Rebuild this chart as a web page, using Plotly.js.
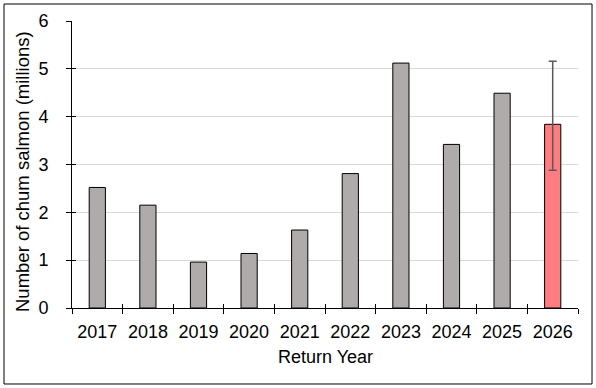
<!DOCTYPE html>
<html>
<head>
<meta charset="utf-8">
<script src="https://cdn.plot.ly/plotly-3.0.1.min.js"></script>
<style>
  html, body { margin: 0; padding: 0; background: #fff; }
  #chart { width: 596px; height: 388px; }
</style>
</head>
<body>
<div id="chart"></div>
<script>
// Data (millions of chum salmon)
var observedYears = ['2017', '2018', '2019', '2020', '2021', '2022', '2023', '2024', '2025'];
var observedValues = [2.52, 2.15, 0.96, 1.14, 1.63, 2.81, 5.12, 3.42, 4.49];
var forecastYears = ['2026'];
var forecastValues = [3.84];
var forecastLow = [2.88];
var forecastHigh = [5.16];
var allYears = observedYears.concat(forecastYears);
var yTickValues = [0, 1, 2, 3, 4, 5, 6];

var FONT = 'Liberation Sans, Arial, sans-serif';

var traces = [
  {
    type: 'bar',
    x: observedYears,
    y: observedValues,
    width: 0.32,
    marker: { color: '#AFABAB', line: { color: '#000000', width: 1 } },
    hoverinfo: 'x+y',
    showlegend: false
  },
  {
    type: 'bar',
    x: forecastYears,
    y: forecastValues,
    width: 0.32,
    marker: { color: '#FF7C80', line: { color: '#000000', width: 1 } },
    error_y: {
      type: 'data',
      symmetric: false,
      array: forecastHigh.map(function (h, i) { return h - forecastValues[i]; }),
      arrayminus: forecastLow.map(function (l, i) { return forecastValues[i] - l; }),
      color: '#595959',
      thickness: 1.5,
      width: 4
    },
    hoverinfo: 'x+y',
    showlegend: false
  }
];

var n = allYears.length;
var boundaryVals = [];
for (var i = 0; i <= n; i++) boundaryVals.push(i - 0.5);

var layout = {
  width: 596,
  height: 388,
  margin: { l: 72, r: 18, t: 21, b: 80 },
  paper_bgcolor: '#ffffff',
  plot_bgcolor: '#ffffff',
  barmode: 'overlay',
  font: { family: FONT, color: '#000000', size: 18 },
  xaxis: {
    type: 'category',
    categoryorder: 'array',
    categoryarray: allYears,
    range: [-0.5, n - 0.5],
    showline: true,
    linecolor: '#000000',
    linewidth: 1,
    ticks: 'outside',
    tickson: 'boundaries',
    ticklen: 5,
    tickcolor: '#000000',
    tickfont: { family: FONT, size: 18, color: '#000000' },
    ticklabelstandoff: 7,
    showgrid: false,
    zeroline: false,
    fixedrange: true
  },
  xaxis2: {
    overlaying: 'x',
    anchor: 'y',
    range: [-0.5, n - 0.5],
    tickmode: 'array',
    tickvals: boundaryVals,
    showticklabels: false,
    ticks: 'inside',
    ticklen: 4,
    tickcolor: '#000000',
    showgrid: false,
    zeroline: false,
    showline: false
  },
  yaxis: {
    range: [0, 6],
    tickmode: 'array',
    tickvals: yTickValues,
    showline: true,
    linecolor: '#000000',
    linewidth: 1,
    ticks: 'outside',
    ticklen: 5,
    tickcolor: '#000000',
    tickfont: { family: FONT, size: 18, color: '#000000' },
    ticklabelstandoff: 14,
    showgrid: true,
    gridcolor: '#d9d9d9',
    gridwidth: 1,
    zeroline: false,
    fixedrange: true
  },
  yaxis2: {
    overlaying: 'y',
    anchor: 'x',
    side: 'left',
    range: [0, 6],
    tickmode: 'array',
    tickvals: yTickValues,
    showticklabels: false,
    ticks: 'inside',
    ticklen: 4,
    tickcolor: '#000000',
    showgrid: false,
    zeroline: false,
    showline: false
  },
  annotations: [
    {
      text: 'Number of chum salmon (millions)',
      xref: 'paper', yref: 'paper',
      x: -0.099, y: 0.477,
      xanchor: 'center', yanchor: 'middle',
      textangle: -90,
      showarrow: false,
      font: { family: FONT, size: 18.5, color: '#000000' }
    },
    {
      text: 'Return Year',
      xref: 'paper', yref: 'paper',
      x: 0.5, y: -0.17,
      xanchor: 'center', yanchor: 'middle',
      showarrow: false,
      font: { family: FONT, size: 18, color: '#000000' }
    }
  ],
  shapes: [
    {
      type: 'rect',
      xref: 'paper', yref: 'paper',
      x0: -0.1344, x1: 1.0277,
      y0: -0.2648, y1: 1.0592,
      line: { color: '#000000', width: 1 },
      fillcolor: 'rgba(0,0,0,0)',
      layer: 'above'
    }
  ]
};

// invisible helper trace so the overlay tick axes render
traces.push({ type: 'scatter', x: [0], y: [0], xaxis: 'x2', yaxis: 'y2', mode: 'markers', marker: { opacity: 0 }, hoverinfo: 'skip', showlegend: false });

Plotly.newPlot('chart', traces, layout, { displayModeBar: false, staticPlot: true });
</script>
</body>
</html>
